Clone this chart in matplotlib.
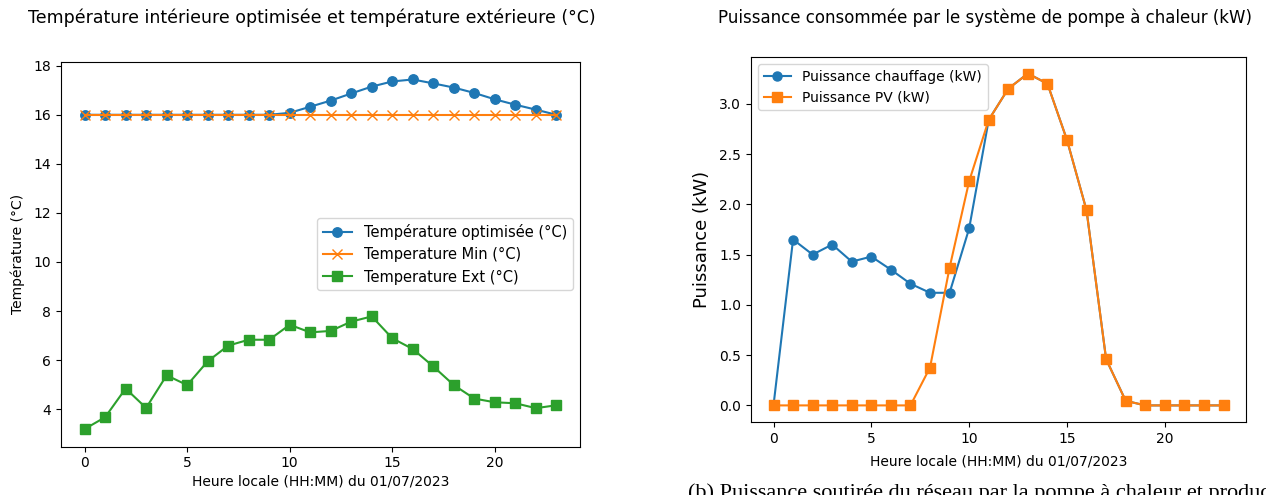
import matplotlib
matplotlib.use("Agg")
import matplotlib.pyplot as plt
import numpy as np

# Hourly data for 01/07/2023
hours = list(range(24))

temp_optimisee = [16.0, 16.0, 16.0, 16.0, 16.0, 16.0, 16.0, 16.0, 16.0, 16.0,
                  16.08, 16.33, 16.58, 16.87, 17.15, 17.36, 17.44, 17.28,
                  17.11, 16.89, 16.63, 16.41, 16.21, 16.0]
temp_min = [16.0] * 24
temp_ext = [3.19, 3.67, 4.84, 4.05, 5.38, 4.98, 5.95, 6.59, 6.83, 6.83,
            7.44, 7.13, 7.19, 7.57, 7.78, 6.89, 6.45, 5.74, 4.98, 4.43,
            4.28, 4.24, 4.04, 4.16]

puissance_chauffage = [0.0, 1.65, 1.50, 1.60, 1.43, 1.48, 1.35, 1.21, 1.12, 1.12,
                       1.76, 2.84, 3.15, 3.30, 3.20, 2.64, 1.94, 0.46, 0.046,
                       0.0, 0.0, 0.0, 0.0, 0.0]
puissance_pv = [0.0, 0.0, 0.0, 0.0, 0.0, 0.0, 0.0, 0.0, 0.377, 1.37,
                2.23, 2.84, 3.15, 3.30, 3.20, 2.64, 1.94, 0.46, 0.046,
                0.0, 0.0, 0.0, 0.0, 0.0]

W, H = 1266, 495
fig = plt.figure(figsize=(W / 100, H / 100), dpi=100)

def box(l, t, r, b):
    return [l / W, 1 - b / H, (r - l) / W, (b - t) / H]

# Left panel: temperatures
ax1 = fig.add_axes(box(61, 62, 580, 446.5))
ax1.plot(hours, temp_optimisee, marker="o", ms=6.8, label="Température optimisée (°C)")
ax1.plot(hours, temp_min, marker="x", ms=6.8, label="Temperature Min (°C)")
ax1.plot(hours, temp_ext, marker="s", ms=6.8, label="Temperature Ext (°C)")
ax1.set_xticks([0, 5, 10, 15, 20])
ax1.set_yticks([4, 6, 8, 10, 12, 14, 16, 18])
ax1.tick_params(labelsize=10)
ax1.set_xlabel("Heure locale (HH:MM) du 01/07/2023", fontsize=10, va="center")
ax1.xaxis.set_label_coords(0.5, -0.09)
ax1.set_ylabel("Température (°C)", fontsize=10, va="center")
ax1.yaxis.set_label_coords(-0.083, 0.5)
ax1.legend(loc="center right", fontsize=10.5)
fig.text(312 / W, 1 - 18 / H,
         "Température intérieure optimisée et température extérieure (°C)",
         ha="center", va="center", fontsize=12.5)

# Right panel: power
ax2 = fig.add_axes(box(751, 57, 1246, 422))
ax2.plot(hours, puissance_chauffage, marker="o", ms=6.5, label="Puissance chauffage (kW)")
ax2.plot(hours, puissance_pv, marker="s", ms=6.5, label="Puissance PV (kW)")
ax2.set_xticks([0, 5, 10, 15, 20])
ax2.set_yticks([0.0, 0.5, 1.0, 1.5, 2.0, 2.5, 3.0])
ax2.tick_params(labelsize=10)
ax2.set_xlabel("Heure locale (HH:MM) du 01/07/2023", fontsize=10, va="center")
ax2.xaxis.set_label_coords(0.5, -0.107)
ax2.set_ylabel("Puissance (kW)", fontsize=13, va="center")
ax2.yaxis.set_label_coords(-0.099, 0.5)
ax2.legend(loc="upper left", fontsize=10)
fig.text(985 / W, 1 - 18 / H,
         "Puissance consommée par le système de pompe à chaleur (kW)",
         ha="center", va="center", fontsize=12)

# Figure caption (runs off the bottom edge)
fig.text(688 / W, 1 - 483 / H,
         "(b) Puissance soutirée du réseau par la pompe à chaleur et production PV",
         ha="left", va="top", fontsize=16, family="Liberation Serif")

fig.savefig("out.png", dpi=100)
